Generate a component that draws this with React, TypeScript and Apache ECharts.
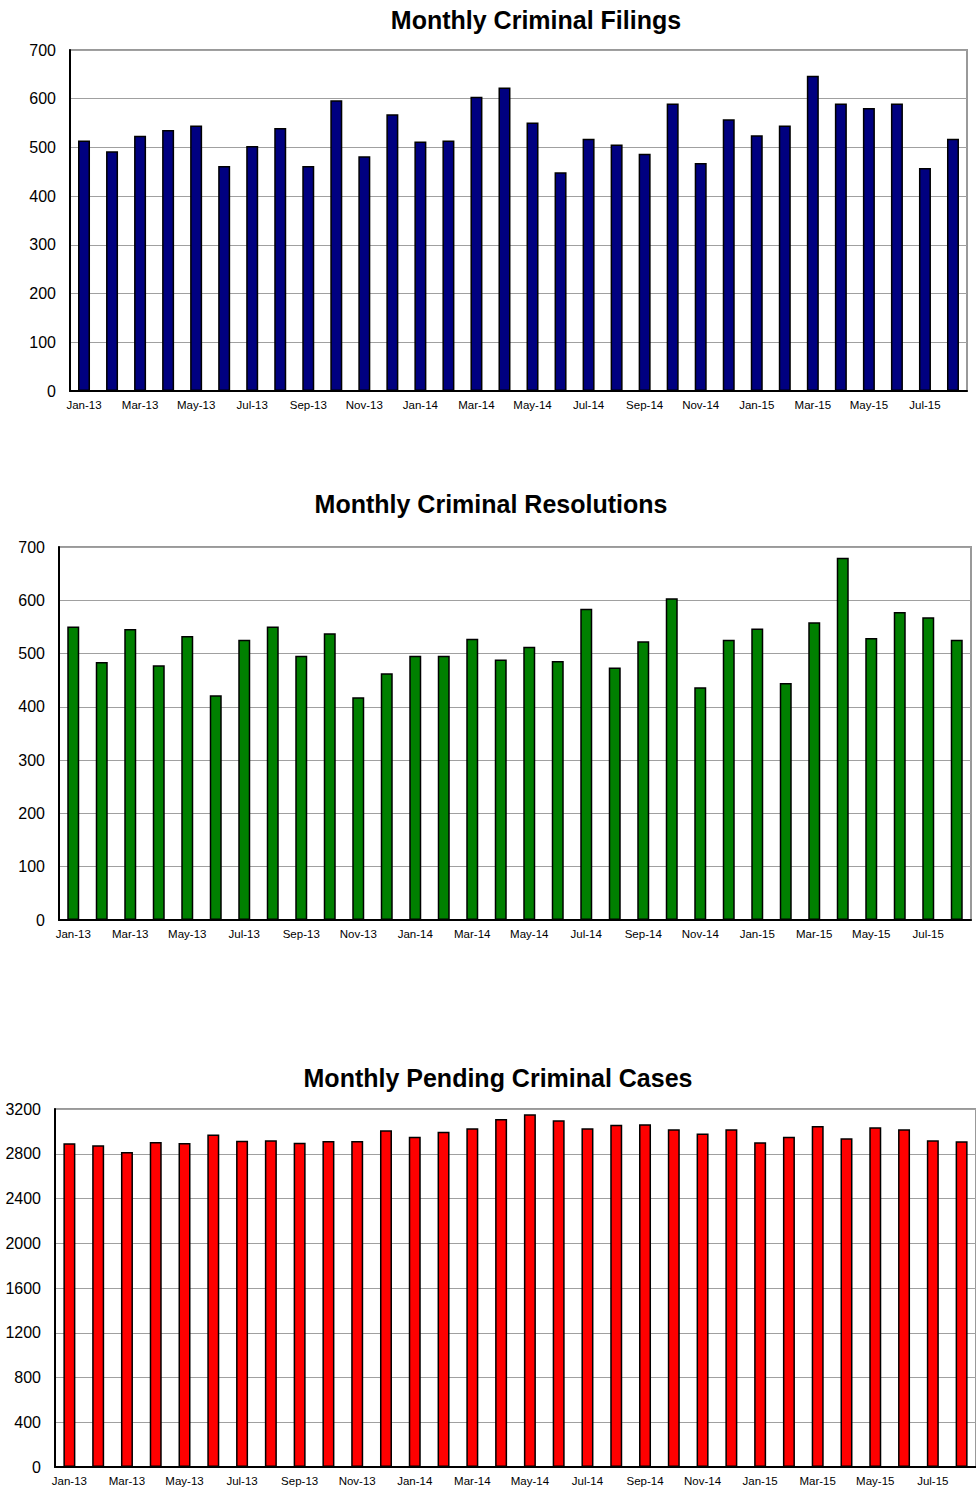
import React, { useEffect, useRef } from "react";
import * as echarts from "echarts";

const months = [
  "Jan-13", "Feb-13", "Mar-13", "Apr-13", "May-13", "Jun-13", "Jul-13", "Aug-13",
  "Sep-13", "Oct-13", "Nov-13", "Dec-13", "Jan-14", "Feb-14", "Mar-14", "Apr-14",
  "May-14", "Jun-14", "Jul-14", "Aug-14", "Sep-14", "Oct-14", "Nov-14", "Dec-14",
  "Jan-15", "Feb-15", "Mar-15", "Apr-15", "May-15", "Jun-15", "Jul-15", "Aug-15",
];

const filings = [514, 492, 524, 536, 545, 462, 503, 540, 462, 597, 482, 568, 512, 514, 604, 623, 551, 449, 518, 506, 487, 590, 468, 558, 525, 545, 647, 590, 581, 590, 458, 518];
const resolutions = [551, 484, 546, 478, 533, 422, 526, 551, 496, 538, 418, 463, 496, 496, 528, 489, 513, 486, 584, 474, 523, 604, 437, 526, 547, 445, 559, 680, 529, 578, 568, 526];
const pending = [2893, 2875, 2815, 2905, 2896, 2973, 2917, 2920, 2899, 2914, 2914, 3009, 2953, 2997, 3027, 3111, 3152, 3099, 3027, 3060, 3063, 3018, 2982, 3018, 2902, 2953, 3048, 2938, 3036, 3018, 2920, 2911];

const titles = ["Monthly Criminal Filings", "Monthly Criminal Resolutions", "Monthly Pending Criminal Cases"];
const colors = ["#000080", "#008000", "#ff0000"];
const yMax = [700, 700, 3200];
const yStep = [100, 100, 400];

const FONT = "'Liberation Sans', Arial, Helvetica, sans-serif";

export default function App() {
  const ref = useRef<HTMLDivElement>(null);
  useEffect(() => {
    if (!ref.current) return;
    const chart = echarts.init(ref.current, undefined, { renderer: "svg" });
    const grids = [
      { left: 70, top: 50, width: 897, height: 341 },
      { left: 59, top: 547, width: 912, height: 373 },
      { left: 55, top: 1109, width: 925, height: 358 },
    ];
    const titlePos = [
      [536, 20],
      [491, 504],
      [498, 1078],
    ];
    const seriesData = [filings, resolutions, pending];
    chart.setOption({
      animation: false,
      backgroundColor: "#ffffff",
      graphic: titles.map((t, i) => ({
        type: "text",
        x: titlePos[i][0],
        y: titlePos[i][1],
        style: {
          text: t,
          fontSize: 25,
          fontWeight: "bold",
          fontFamily: FONT,
          fill: "#000",
          textAlign: "center",
          textVerticalAlign: "middle",
        },
      })),
      grid: grids.map((g) => ({
        ...g,
        show: true,
        borderColor: "#999999",
        borderWidth: 2,
        backgroundColor: "transparent",
        containLabel: false,
      })),
      xAxis: grids.map((_, i) => ({
        type: "category",
        gridIndex: i,
        data: months,
        axisTick: { show: false },
        axisLine: { show: true, lineStyle: { color: "#000", width: 2 } },
        axisLabel: {
          interval: 1,
          fontSize: 11.5,
          fontFamily: FONT,
          color: "#000",
          margin: 8,
        },
        splitLine: { show: false },
      })),
      yAxis: grids.map((_, i) => ({
        type: "value",
        gridIndex: i,
        min: 0,
        max: yMax[i],
        interval: yStep[i],
        axisTick: { show: false },
        axisLine: { show: true, lineStyle: { color: "#000", width: 2 } },
        axisLabel: {
          fontSize: 16,
          fontFamily: FONT,
          color: "#000",
          margin: 14,
          formatter: (v: number) => String(v),
        },
        splitLine: { show: true, lineStyle: { color: "#a0a0a0", width: 1 } },
      })),
      series: seriesData.map((d, i) => ({
        type: "bar",
        xAxisIndex: i,
        yAxisIndex: i,
        data: d,
        barWidth: 12,
        itemStyle: { color: colors[i], borderColor: "#000", borderWidth: 1.5 },
      })),
    });
    return () => chart.dispose();
  }, []);
  return (
    <div
      ref={ref}
      style={{ position: "absolute", left: 0, top: 0, width: 976, height: 1488 }}
    />
  );
}
